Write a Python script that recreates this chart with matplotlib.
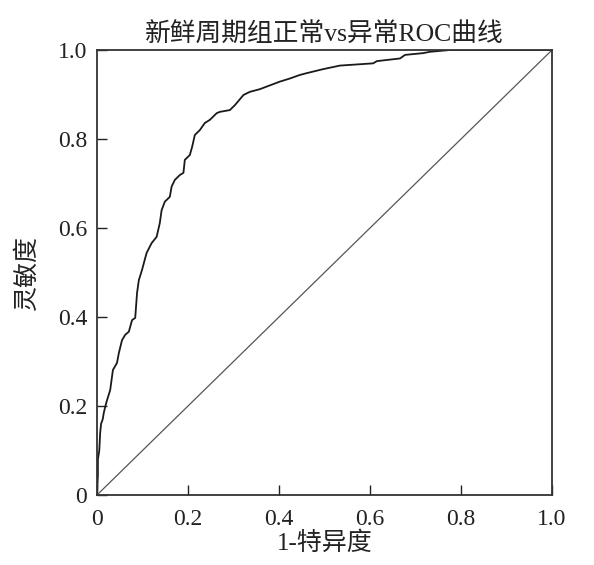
import matplotlib
matplotlib.use("Agg")
import matplotlib.pyplot as plt

plt.rcParams['font.family'] = ['Liberation Serif', 'Noto Sans CJK SC', 'DejaVu Sans']

fpr = [0.0, 0.002, 0.002, 0.005, 0.007, 0.009, 0.0125, 0.015, 0.018, 0.022, 0.029, 0.035,
       0.044, 0.048, 0.055, 0.062, 0.070, 0.077, 0.084, 0.088, 0.092, 0.099, 0.109,
       0.120, 0.131, 0.138, 0.142, 0.149, 0.160, 0.164, 0.171, 0.182, 0.190, 0.193,
       0.204, 0.209, 0.215, 0.226, 0.237, 0.248, 0.263, 0.270, 0.292, 0.303, 0.322,
       0.336, 0.358, 0.376, 0.402, 0.424, 0.446, 0.461, 0.497, 0.534, 0.607, 0.615,
       0.666, 0.677, 0.717, 0.732, 0.776, 1.0]
tpr = [0.0, 0.045, 0.08, 0.10, 0.14, 0.16, 0.17, 0.185, 0.198, 0.213, 0.236, 0.281,
       0.297, 0.319, 0.348, 0.360, 0.367, 0.393, 0.398, 0.454, 0.483, 0.506, 0.544,
       0.566, 0.580, 0.611, 0.640, 0.659, 0.670, 0.693, 0.708, 0.719, 0.724, 0.753,
       0.764, 0.782, 0.809, 0.820, 0.836, 0.843, 0.858, 0.861, 0.865, 0.876, 0.899,
       0.906, 0.912, 0.919, 0.929, 0.936, 0.944, 0.948, 0.957, 0.965, 0.970, 0.975,
       0.981, 0.989, 0.993, 0.996, 1.0, 1.0]
ref_line = [0.0, 1.0]

ticks = [0, 0.2, 0.4, 0.6, 0.8, 1.0]
tick_labels = ['0', '0.2', '0.4', '0.6', '0.8', '1.0']

title = '新鲜周期组正常vs异常ROC曲线'
xlabel = '1-特异度'
ylabel = '灵敏度'

fig = plt.figure(figsize=(5.94, 5.65), dpi=100)
ax = fig.add_axes([0.1633, 0.1239, 0.766, 0.7876])

ax.plot(fpr, tpr, color='#1a1a1a', lw=1.3)
ax.plot(ref_line, ref_line, color='#555555', lw=0.9)

ax.set_xlim(0, 1)
ax.set_ylim(0, 1)
ax.set_xticks(ticks)
ax.set_xticklabels(tick_labels)
ax.set_yticks(ticks)
ax.set_yticklabels(tick_labels)
ax.tick_params(direction='in', length=7, width=1, labelsize=17, colors='#222222')
ax.tick_params(axis='x', pad=10)
ax.tick_params(axis='y', pad=7)
for s in ax.spines.values():
    s.set_linewidth(1.3)
    s.set_color('#333333')

ax.set_title(title, fontsize=18.5, pad=6, color='#222222')
ax.set_xlabel(xlabel, fontsize=18, labelpad=1, color='#222222')
ax.set_ylabel(ylabel, fontsize=18, labelpad=14, color='#222222')

fig.savefig('out.png', dpi=100, facecolor='white')
